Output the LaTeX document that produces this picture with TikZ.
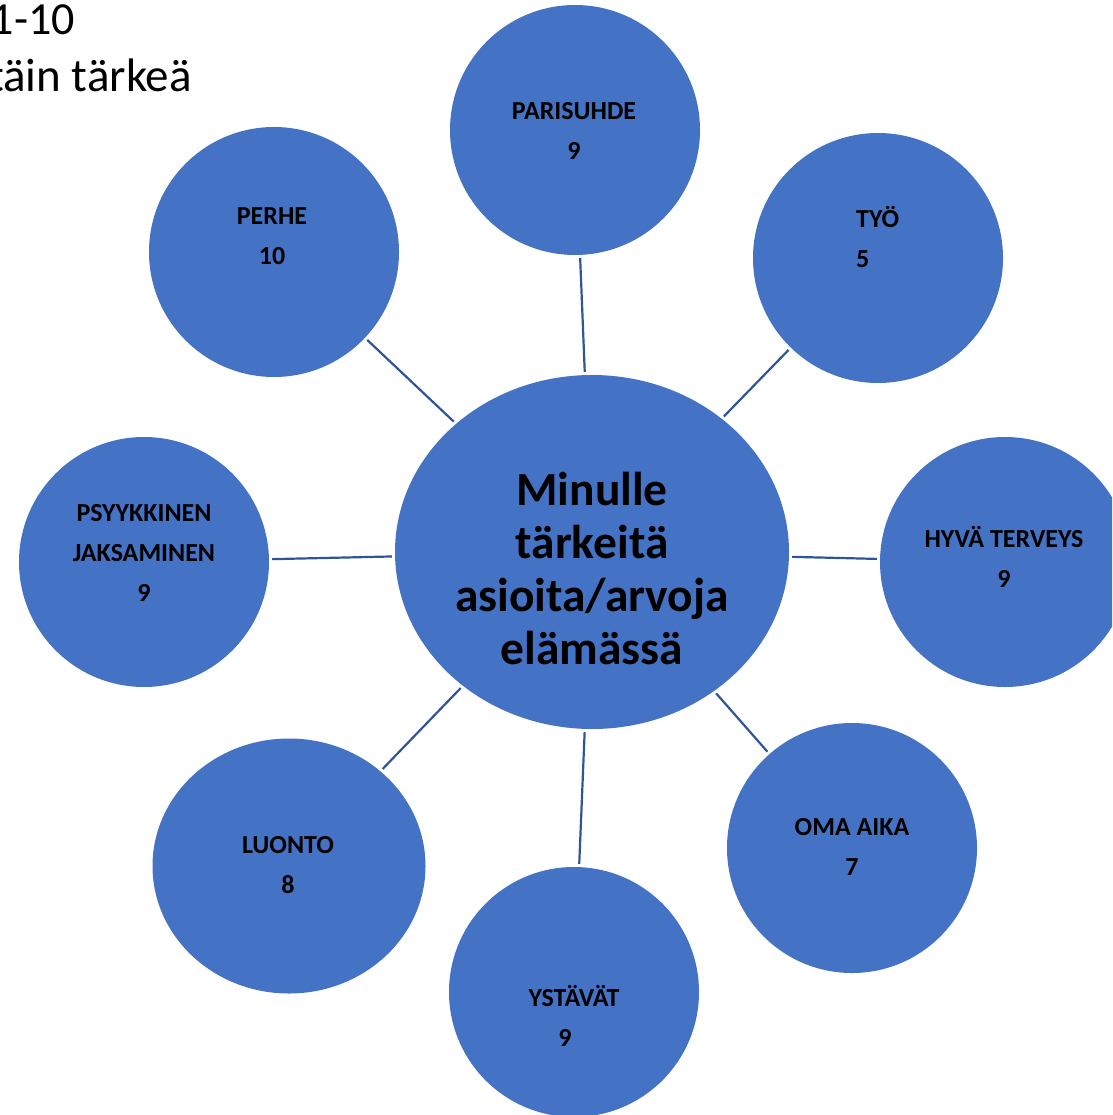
\documentclass[tikz,border=0pt]{standalone}
\usepackage{fontspec}
\setmainfont{Carlito}
\usetikzlibrary{shapes.geometric}

\definecolor{bubble}{RGB}{68,114,196}
\definecolor{spoke}{RGB}{47,85,151}

\tikzset{
  bubble/.style={circle, fill=bubble, inner sep=0pt, minimum size=250pt},
  hub/.style={ellipse, fill=bubble, inner sep=0pt, minimum width=394pt, minimum height=354pt},
  tag/.style={align=center, inner sep=0pt, font=\fontsize{26}{40}\selectfont\bfseries},
  spokeline/.style={spoke, line width=2.2pt, shorten <=3pt, shorten >=3pt}
}

\begin{document}
\begin{tikzpicture}[x=1pt, y=-1pt]
  % Frame
  \useasboundingbox (0,0) rectangle (1112,1115);
  \clip (0,0) rectangle (1112,1115);

  % Heading (cut at the left edge)
  \node[anchor=base east, inner sep=0pt, font=\fontsize{46}{53}\selectfont] (scale) at (75, 35) {1-10};
  \node[anchor=base east, inner sep=0pt, font=\fontsize{47}{53}\selectfont] (meaning) at (192, 92) {täin tärkeä};

  % Centre
  \node[hub] (hub) at (592, 552) {};
  \node[align=center, inner sep=0pt, font=\fontsize{47.5}{53}\selectfont\bfseries] (hubtext) at (592, 569)
    {Minulle\\tärkeitä\\asioita/arvoja\\elämässä};

  % Values
  \node[bubble] (parisuhde) at (575, 130) {};
  \node[bubble] (perhe) at (274, 252) {};
  \node[bubble] (tyo) at (878, 258) {};
  \node[bubble] (psyyk) at (144, 562) {};
  \node[bubble] (terveys) at (1005, 562) {};
  \node[bubble, ellipse, minimum width=273pt, minimum height=255pt] (luonto) at (289, 866) {};
  \node[bubble] (omaaika) at (852, 848) {};
  \node[bubble] (ystavat) at (574, 992) {};

  % Labels
  \node[tag] (parisuhdetext) at (574, 131) {PARISUHDE\\9};
  \node[tag] (perhetext) at (272, 236) {PERHE\\10};
  \node[tag, align=left, anchor=west] (tyotext) at (856, 237) {TYÖ\\5};
  \node[tag] (psyyktext) at (144, 553) {PSYYKKINEN\\JAKSAMINEN\\9};
  \node[tag] (terveystext) at (1004, 557) {HYVÄ TERVEYS\\9};
  \node[tag] (luontotext) at (288, 865) {LUONTO\\8};
  \node[tag] (omaaikatext) at (852, 847) {OMA AIKA\\7};
  \node[tag] (ystavattext) at (574, 1016) {YSTÄVÄT\\9\hspace*{18pt}};

  % Spokes
  \draw[spokeline] (hub) -- (parisuhde);
  \draw[spokeline] (hub) -- (perhe);
  \draw[spokeline] (hub) -- (tyo);
  \draw[spokeline] (hub) -- (psyyk);
  \draw[spokeline] (hub) -- (terveys);
  \draw[spokeline] (hub) -- (luonto);
  \draw[spokeline] (hub) -- (omaaika);
  \draw[spokeline] (hub) -- (ystavat);
\end{tikzpicture}
\end{document}
